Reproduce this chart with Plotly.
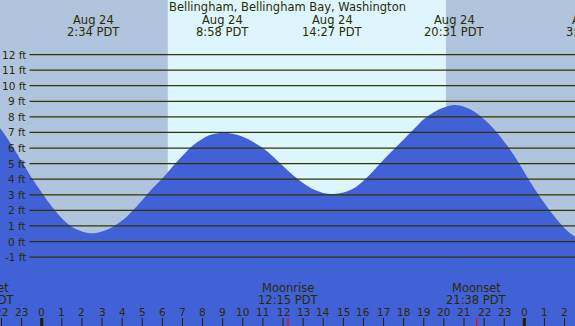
import plotly.graph_objects as go

# ---- data (hours relative to Aug 24 00:00 PDT) ----
tide_hours = [-2.5, -2.0, -1.5, -1.0, -0.5, 0.0, 0.5, 1.0, 1.5, 2.0, 2.5, 3.0, 3.5, 4.0, 4.5,
              5.0, 5.5, 6.0, 6.5, 7.0, 7.5, 8.0, 8.5, 9.0, 9.5, 10.0, 10.5, 11.0, 11.5, 12.0,
              12.5, 13.0, 13.5, 14.0, 14.5, 15.0, 15.5, 16.0, 16.5, 17.0, 17.5, 18.0, 18.5,
              19.0, 19.5, 20.0, 20.5, 21.0, 21.5, 22.0, 22.5, 23.0, 23.5, 24.0, 24.5, 25.0,
              25.5, 26.0, 26.5, 27.0]
tide_ft = [7.9, 7.15, 6.2, 5.15, 4.1, 3.15, 2.25, 1.5, 0.95, 0.65, 0.53, 0.65, 0.92, 1.35, 1.95,
           2.65, 3.4, 4.05, 4.8, 5.5, 6.15, 6.6, 6.88, 6.98, 6.92, 6.72, 6.4, 6.0, 5.45, 4.85,
           4.25, 3.75, 3.35, 3.12, 3.05, 3.15, 3.4, 3.9, 4.55, 5.25, 5.9, 6.55, 7.2,
           7.85, 8.3, 8.6, 8.76, 8.65, 8.35, 7.85, 7.2, 6.4, 5.5, 4.45, 3.4, 2.45,
           1.6, 0.85, 0.33, 0.0]

extreme_hours = [2.567, 8.967, 14.45, 20.517, 27.4]
extreme_dates = ["Aug 24", "Aug 24", "Aug 24", "Aug 24", "Aug 25"]
extreme_times = ["2:34 PDT", "8:58 PDT", "14:27 PDT", "20:31 PDT", "3:24 PDT"]

sunrise_hour = 6.27
sunset_hour = 20.1

moon_hours = [-2.82, 12.25, 21.633]
moon_names = ["Moonset", "Moonrise", "Moonset"]
moon_times = ["21:11 PDT", "12:15 PDT", "21:38 PDT"]

hour_ticks = list(range(-2, 27))
hour_labels = [str(h % 24) for h in hour_ticks]
midnights = [0, 24]

ft_levels = list(range(-1, 13))
ft_labels = [f"{v} ft" for v in ft_levels]

title = "Bellingham, Bellingham Bay, Washington"

# ---- layout constants ----
X0, X1 = -2.074, 26.52
Y0, Y1 = -5.42, 15.5
W, H = 575, 326
NIGHT = "#B0C4DE"
DAY = "#DDF6FD"
WATER = "#4161D7"
INK = "#2b2b00"
FONT = "DejaVu Sans"


def xf(h):
    return (h - X0) / (X1 - X0)


def yf(px):
    return 1 - px / H


fig = go.Figure()

fig.add_trace(go.Scatter(x=tide_hours, y=[Y0] * len(tide_hours), mode="lines",
                         line=dict(width=0), hoverinfo="skip", showlegend=False))
fig.add_trace(go.Scatter(x=tide_hours, y=tide_ft, mode="lines", fill="tonexty",
                         fillcolor=WATER, line=dict(width=0, color=WATER, shape="spline"),
                         showlegend=False))

shapes = []
# night shading
shapes.append(dict(type="rect", xref="x", yref="paper", x0=X0 - 1, x1=sunrise_hour,
                   y0=0, y1=1, fillcolor=NIGHT, line=dict(width=0), layer="below"))
shapes.append(dict(type="rect", xref="x", yref="paper", x0=sunset_hour, x1=X1 + 1,
                   y0=0, y1=1, fillcolor=NIGHT, line=dict(width=0), layer="below"))
# grid lines
for v in ft_levels:
    shapes.append(dict(type="line", xref="paper", yref="y", x0=29.5 / W, x1=1, y0=v, y1=v,
                       line=dict(color="#333300", width=1.2), layer="above"))
# hour ticks
for h in hour_ticks:
    shapes.append(dict(type="line", xref="x", yref="paper", x0=h, x1=h, y0=0, y1=8 / H,
                       line=dict(color="#222200", width=1), layer="above"))
for h in midnights:
    shapes.append(dict(type="line", xref="x", yref="paper", x0=h, x1=h, y0=0, y1=8 / H,
                       line=dict(color="#222200", width=3.2), layer="above"))
for h in moon_hours:
    shapes.append(dict(type="line", xref="x", yref="paper", x0=h, x1=h, y0=0, y1=8 / H,
                       line=dict(color="#FF0000", width=1.2), layer="above"))

ann = []
ann.append(dict(text=title, xref="paper", yref="paper", x=0.5, y=yf(7.5), showarrow=False,
                xanchor="center", yanchor="middle", font=dict(size=11.5, color=INK, family=FONT)))
for h, d, t in zip(extreme_hours, extreme_dates, extreme_times):
    ann.append(dict(text=d, xref="paper", yref="paper", x=xf(h), y=yf(20), showarrow=False,
                    xanchor="center", yanchor="middle", font=dict(size=11.5, color=INK, family=FONT)))
    ann.append(dict(text=t, xref="paper", yref="paper", x=xf(h), y=yf(32), showarrow=False,
                    xanchor="center", yanchor="middle", font=dict(size=11.5, color=INK, family=FONT)))
for v, lab in zip(ft_levels, ft_labels):
    ann.append(dict(text=lab, xref="paper", yref="y", x=27.5 / W, y=v, showarrow=False,
                    xanchor="right", yanchor="middle", font=dict(size=10.5, color=INK, family=FONT)))
for h, n, t in zip(moon_hours, moon_names, moon_times):
    ann.append(dict(text=n, xref="paper", yref="paper", x=xf(h), y=yf(288), showarrow=False,
                    xanchor="center", yanchor="middle", font=dict(size=11.5, color=INK, family=FONT)))
    ann.append(dict(text=t, xref="paper", yref="paper", x=xf(h), y=yf(300), showarrow=False,
                    xanchor="center", yanchor="middle", font=dict(size=11.5, color=INK, family=FONT)))
for h, lab in zip(hour_ticks, hour_labels):
    ann.append(dict(text=lab, xref="paper", yref="paper", x=xf(h), y=yf(312), showarrow=False,
                    xanchor="center", yanchor="middle", font=dict(size=10.5, color=INK, family=FONT)))

fig.update_layout(
    width=W, height=H,
    margin=dict(l=0, r=0, t=0, b=0),
    paper_bgcolor=DAY, plot_bgcolor=DAY,
    showlegend=False,
    xaxis=dict(range=[X0, X1], visible=False, showgrid=False, zeroline=False, fixedrange=True),
    yaxis=dict(range=[Y0, Y1], visible=False, showgrid=False, zeroline=False, fixedrange=True),
    shapes=shapes, annotations=ann,
)

fig.write_html(
    "out.html",
    config={"displayModeBar": False},
    post_script="document.body.style.margin='0';document.body.style.padding='0';"
                "document.body.style.overflow='hidden';",
)
